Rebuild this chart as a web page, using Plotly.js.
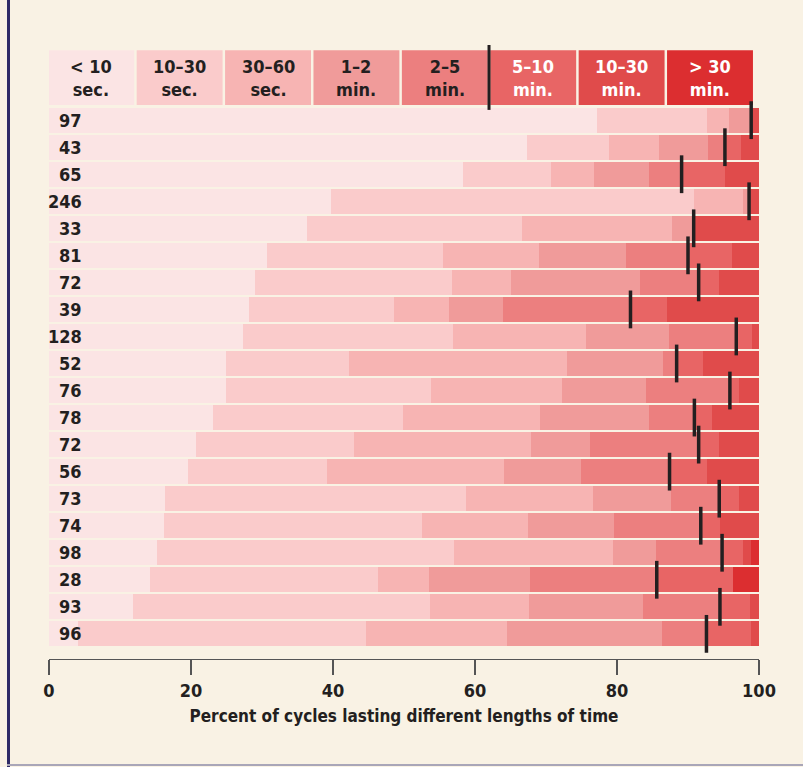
<!DOCTYPE html>
<html>
<head>
<meta charset="utf-8">
<script src="https://cdn.plot.ly/plotly-3.0.1.min.js"></script>
<style>
  html, body { margin: 0; padding: 0; background: #F9F2E4; }
  #chart { width: 803px; height: 767px; }
</style>
</head>
<body>
<div id="chart"></div>
<script>
// Row labels (top to bottom)
const rowLabels = ["97","43","65","246","33","81","72","39","128","52","76","78","72","56","73","74","98","28","93","96"];

// Duration categories (header legend)
const categories = ["< 10<br>sec.","10–30<br>sec.","30–60<br>sec.","1–2<br>min.","2–5<br>min.","5–10<br>min.","10–30<br>min.","> 30<br>min."];

// Percent of cycles in each duration class, one array per class (rows top to bottom)
const lt10s   = [77.2,67.3,58.3,39.7,36.3,30.7,29.0,28.2,27.3,24.9,24.9,23.1,20.7,19.6,16.3,16.2,15.2,14.2,11.8,4.1];
const s10_30  = [15.5,11.6,12.4,51.1,30.3,24.8,27.8,20.4,29.6,17.4,28.9,26.8,22.3,19.6,42.4,36.3,41.8,32.1,41.9,40.5];
const s30_60  = [3.1,7.0,6.1,7.0,21.1,13.5,8.3,7.7,18.7,30.7,18.5,19.3,24.9,24.9,17.9,15.0,22.4,7.2,13.9,19.9];
const m1_2    = [2.9,6.9,7.7,0.7,3.1,12.3,18.1,7.6,11.7,13.5,11.8,15.3,8.3,10.8,11.0,12.1,6.1,14.2,16.1,21.8];
const m2_5    = [0.2,2.4,4.6,0.1,0.0,8.7,8.3,18.0,9.5,1.9,11.8,6.4,15.3,12.5,6.8,12.2,9.3,17.9,10.8,6.3];
const m5_10   = [0.3,2.3,6.1,0.3,0.2,6.2,2.9,5.1,2.2,3.7,1.3,2.5,2.9,5.3,2.8,2.7,2.9,10.7,4.2,6.3];
const m10_30  = [0.8,2.5,4.8,1.1,9.0,3.8,5.6,13.0,1.0,7.9,2.8,6.6,5.6,7.3,2.8,5.5,1.2,0.0,1.3,1.1];
const gt30m   = [0,0,0,0,0,0,0,0,0,0,0,0,0,0,0,0,1.1,3.7,0,0];

const xTicks = [0,20,40,60,80,100];

const series = [lt10s, s10_30, s30_60, m1_2, m2_5, m5_10, m10_30, gt30m];
const colors = ["#FBE4E4","#FACBCB","#F7B4B3","#F09B9A","#EC7F7F","#E86565","#E04B4B","#DC2E30"];
const textColors = ["#231F20","#231F20","#231F20","#231F20","#231F20","#FFFFFF","#FFFFFF","#FFFFFF"];

const FONT = "'DejaVu Sans Condensed', 'Liberation Sans Narrow', 'Arial Narrow', sans-serif";
const ink = "#231F20";

const yIdx = rowLabels.map((_, i) => i);

const traces = series.map((vals, k) => ({
  type: "bar",
  orientation: "h",
  x: vals,
  y: yIdx,
  width: 0.92,
  marker: { color: colors[k], line: { width: 0 } },
  hoverinfo: "skip",
  showlegend: false
}));

// cumulative share lasting under 5 minutes -> black marker
const under5 = yIdx.map(i => lt10s[i] + s10_30[i] + s30_60[i] + m1_2[i] + m2_5[i]);
traces.push({
  type: "scatter",
  mode: "markers",
  x: under5,
  y: yIdx,
  marker: { symbol: "line-ns", size: 27, color: ink, line: { width: 3.5, color: ink } },
  hoverinfo: "skip",
  showlegend: false
});

const shapes = [];
const annotations = [];

// header legend boxes
const step = 12.45, boxW = 12.1, start = -0.1;
categories.forEach((c, i) => {
  const x0 = start + i * step;
  shapes.push({
    type: "rect", xref: "x", yref: "y",
    x0: x0, x1: x0 + boxW, y0: -2.59, y1: -0.56,
    fillcolor: colors[i], line: { width: 0 }, layer: "below"
  });
  annotations.push({
    xref: "x", yref: "y", x: x0 + boxW / 2, y: -1.57,
    text: c, showarrow: false, align: "center",
    font: { family: FONT, size: 18, color: textColors[i], weight: 700 }
  });
});
// legend marker: black line between "2–5 min." and "5–10 min."
const legX = start + 5 * step - (step - boxW) / 2;
shapes.push({
  type: "line", xref: "x", yref: "y",
  x0: legX, x1: legX, y0: -2.78, y1: -0.38,
  line: { color: ink, width: 3 }
});

// row labels
rowLabels.forEach((lab, i) => {
  annotations.push({
    xref: "x", yref: "y", x: 4.9, y: i, xanchor: "right",
    text: lab, showarrow: false,
    font: { family: FONT, size: 18, color: ink, weight: 700 }
  });
});

const layout = {
  width: 803, height: 767,
  margin: { l: 49, r: 44, t: 45, b: 108 },
  paper_bgcolor: "#F9F2E4",
  plot_bgcolor: "#F9F2E4",
  barmode: "stack",
  bargap: 0.08,
  showlegend: false,
  xaxis: {
    range: [0, 100],
    tickvals: xTicks,
    ticktext: xTicks.map(String),
    ticks: "outside", ticklen: 15, tickwidth: 1.3, tickcolor: "#555",
    showline: true, linecolor: "#555", linewidth: 1.3,
    showgrid: false, zeroline: false,
    tickfont: { family: FONT, size: 18, color: ink, weight: 700 },
    title: { text: "Percent of cycles lasting different lengths of time", standoff: 10,
      font: { family: FONT, size: 17, color: ink, weight: 700 } },
    fixedrange: true
  },
  yaxis: {
    range: [19.93, -2.78],
    visible: false, showgrid: false, zeroline: false, fixedrange: true
  },
  shapes: shapes,
  annotations: annotations
};

Plotly.newPlot("chart", traces, layout, { displayModeBar: false, staticPlot: true });
</script>
<div style="position:absolute;left:7px;top:0;width:3px;height:767px;background:#2E2A66;"></div>
<div style="position:absolute;left:7px;top:764px;width:796px;height:2px;background:#A9A6B8;"></div>
</body>
</html>
